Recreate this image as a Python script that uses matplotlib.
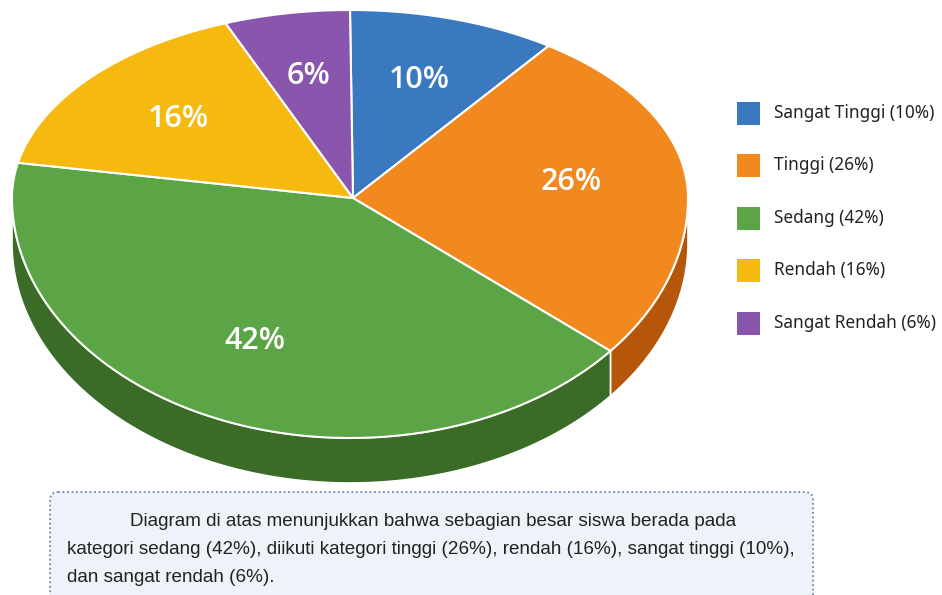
import numpy as np
import matplotlib
matplotlib.use("Agg")
import matplotlib.pyplot as plt
from matplotlib.patches import Polygon, Rectangle, FancyBboxPatch

# data
categories = ["Sangat Tinggi", "Tinggi", "Sedang", "Rendah", "Sangat Rendah"]
values = [10, 26, 42, 16, 6]
colors = ["#3a78c0", "#f2891e", "#5ba546", "#f6b90f", "#8a55ad"]
side_colors = ["#24538a", "#b5560a", "#3a6b27", "#b88a08", "#5e3a78"]
summary_lines = [
    "Diagram di atas menunjukkan bahwa sebagian besar siswa berada pada",
    "kategori sedang (42%), diikuti kategori tinggi (26%), rendah (16%), sangat tinggi (10%),",
    "dan sangat rendah (6%).",
]

# pie geometry in pixel space
CX, CY = 350, 198
RX, RY_TOP, RY_BOT = 338, 188, 240
DEPTH = 45
START = 90
LABEL_R = 0.66

W, H = 942, 595


def ell(theta):
    t = np.radians(theta)
    s = np.sin(t)
    ry = np.where(s >= 0, RY_TOP, RY_BOT)
    return CX + RX * np.cos(t), CY - ry * s


fig = plt.figure(figsize=(W / 100, H / 100), dpi=100)
ax = fig.add_axes([0, 0, 1, 1])
ax.set_xlim(0, W)
ax.set_ylim(H, 0)
ax.axis("off")

fracs = np.array(values, dtype=float) / sum(values)
cum = np.concatenate([[0], np.cumsum(fracs)])
bounds = [(START - cum[i] * 360, START - cum[i + 1] * 360) for i in range(len(values))]

# side walls (front half only)
for (a_hi, a_lo), sc in zip(bounds, side_colors):
    hi, lo = min(a_hi, 0), max(a_lo, -180)
    if hi <= lo:
        continue
    th = np.linspace(hi, lo, 120)
    x, y = ell(th)
    pts = np.column_stack([np.concatenate([x, x[::-1]]),
                           np.concatenate([y, y[::-1] + DEPTH])])
    ax.add_patch(Polygon(pts, closed=True, facecolor=sc, edgecolor="white",
                         linewidth=1.2, zorder=1))

# top faces
for (a_hi, a_lo), c in zip(bounds, colors):
    th = np.linspace(a_hi, a_lo, 200)
    x, y = ell(th)
    pts = np.column_stack([np.concatenate([[CX + 3], x]), np.concatenate([[CY], y])])
    ax.add_patch(Polygon(pts, closed=True, facecolor=c, edgecolor="white",
                         linewidth=1.5, zorder=2))

# percentage labels
for (a_hi, a_lo), v in zip(bounds, values):
    mid = (a_hi + a_lo) / 2
    t = np.radians(mid)
    ry = RY_TOP if np.sin(t) >= 0 else RY_BOT
    lx = CX + LABEL_R * RX * np.cos(t)
    ly = CY - LABEL_R * ry * np.sin(t)
    ax.text(lx, ly, f"{v}%", color="white", fontsize=22, fontweight="semibold",
            family="Open Sans", ha="center", va="center", zorder=3)

# legend
for i, (cat, v, c) in enumerate(zip(categories, values, colors)):
    y = 113 + i * 52.5
    ax.add_patch(Rectangle((737, y - 11.5), 23, 23, facecolor=c, edgecolor="none"))
    ax.text(774, y, f"{cat} ({v}%)", fontsize=12.4, family="Noto Sans",
            color="#222222", ha="left", va="center")

# summary box
ax.add_patch(FancyBboxPatch((50, 492), 763, 115,
                            boxstyle="round,pad=0,rounding_size=8",
                            facecolor="#eef3fa", edgecolor="#6f86b8",
                            linestyle=(0, (1, 1.5)), linewidth=1.3, zorder=1))
ax.text(130, 521, summary_lines[0], fontsize=13.6, family="Liberation Sans",
        color="#222222", ha="left", va="center")
for k, line in enumerate(summary_lines[1:]):
    ax.text(67, 549 + 28 * k, line, fontsize=13.6, family="Liberation Sans",
            color="#222222", ha="left", va="center")

fig.savefig("out.png", dpi=100, facecolor="white")
